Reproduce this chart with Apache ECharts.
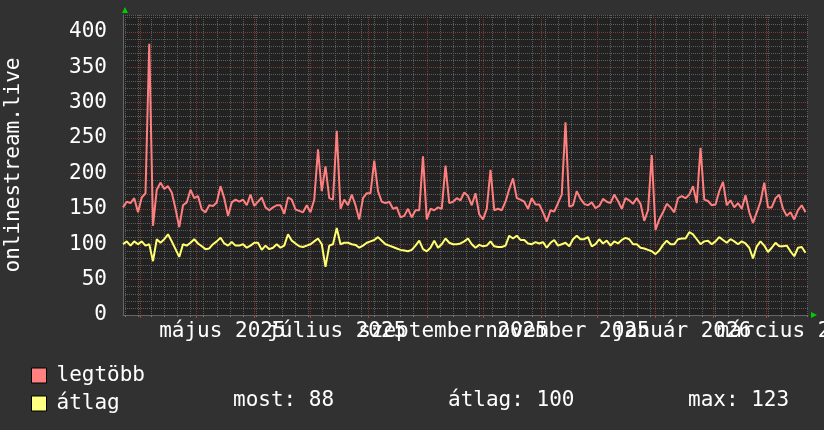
<!DOCTYPE html>
<html><head><meta charset="utf-8">
<script src="https://cdn.jsdelivr.net/npm/echarts@6/dist/echarts.min.js"></script>
<style>html,body{margin:0;padding:0;background:#313131}#c{width:824px;height:430px}</style>
</head><body><div id="c"></div><script>
// time frame
const startDate = '2025-03-23';
const spanDays = 365.33;
const stepDays = 2;
// series values (one sample every 2 days)
const legtobb = [152,160,158,165,145,166,172,383,126,177,187,178,182,173,150,124,155,159,177,165,168,149,145,155,154,159,182,165,140,159,163,160,163,155,170,154,160,166,152,148,152,155,155,143,166,163,149,147,
145,155,145,163,234,175,210,165,163,260,150,163,155,170,155,135,165,172,172,218,175,160,158,160,150,152,138,140,150,138,148,148,224,135,150,148,152,150,211,158,160,165,162,173,168,
155,172,142,135,150,205,148,150,148,160,178,193,165,163,160,150,165,156,156,145,132,148,146,158,170,272,153,155,175,164,157,155,159,151,154,164,160,158,170,161,150,165,162,157,
165,157,133,148,226,120,135,145,157,152,145,165,168,165,170,182,158,236,163,161,155,156,175,188,155,162,152,158,150,169,145,130,145,160,187,152,152,165,170,150,140,145,135,148,155,145];
const atlag = [100,104,98,104,100,104,98,100,76,107,102,107,114,104,93,82,100,98,102,107,101,97,93,94,100,104,109,101,98,103,98,98,100,95,98,102,102,92,98,93,95,100,95,98,114,105,101,97,
96,98,100,104,108,100,68,98,100,123,100,102,102,100,99,95,98,102,104,106,110,105,100,98,96,94,92,91,90,92,98,105,93,90,95,105,95,100,108,102,100,100,101,104,108,
100,95,99,97,98,104,97,96,96,98,112,108,112,106,106,101,100,103,101,103,95,102,106,98,100,102,97,107,112,107,107,110,97,100,107,101,105,98,104,101,106,109,107,100,
100,95,94,92,90,86,91,99,105,100,100,107,108,108,117,114,107,100,104,105,100,104,110,106,102,107,104,100,104,101,95,80,97,104,98,89,95,102,97,97,98,90,83,95,96,88];
// axis marks
const firstMonday = '2025-03-24';
const monthStarts = ['2025-04-01','2025-05-01','2025-06-01','2025-07-01','2025-08-01','2025-09-01','2025-10-01','2025-11-01','2025-12-01','2026-01-01','2026-02-01','2026-03-01'];
const labelDates = ['2025-05-15','2025-07-15','2025-09-15','2025-11-15','2026-01-15','2026-03-15'];
const labelTexts = ['május 2025','július 2025','szeptember 2025','november 2025','január 2026','március 2026'];
const yMax = 423.7;
const seriesNames = ['legtöbb','átlag'];
const statTexts = ['most: 88','átlag: 100','max: 123'];
const yTitle = 'onlinestream.live';

const DAY = 86400000;
const dayOf = s => (Date.parse(s) - Date.parse(startDate)) / DAY;
const weekDays = [];
for (let d = dayOf(firstMonday); d <= spanDays; d += 7) weekDays.push(d);
const monthDays = monthStarts.map(dayOf);
const labelDays = labelDates.map(dayOf);
const labelMap = {};
labelDays.forEach((d, i) => labelMap[d] = labelTexts[i]);
const labelsA = labelDays.filter((d, i) => i % 2 === 0);
const labelsB = labelDays.filter((d, i) => i % 2 === 1);
const toPts = arr => arr.map((v, i) => [i * stepDays, v]);

const FONT = 'DejaVu Sans Mono';
const GREY = '#5c5c5c', RED = '#7e3a3a';
const labelStyle = {formatter: v => labelMap[v] || '', color: '#ffffff', fontFamily: FONT, fontSize: 21, margin: 6,
  showMinLabel: true, showMaxLabel: true, hideOverlap: false};
const chart = echarts.init(document.getElementById('c'));
chart.setOption({
  backgroundColor: '#313131',
  animation: false,
  textStyle: {fontFamily: FONT},
  grid: {left: 123, top: 15, width: 685, height: 300, backgroundColor: '#222222', show: true, borderWidth: 0, outerBoundsMode: 'none', containLabel: false},
  xAxis: [{
    type: 'value', min: 0, max: spanDays,
    axisLine: {show: true, lineStyle: {color: '#666'}},
    axisTick: {show: true, customValues: weekDays, length: 2, inside: false, lineStyle: {color: '#777'}},
    splitLine: {show: true, lineStyle: {color: GREY, type: [1, 1], width: 1}},
    axisLabel: Object.assign({customValues: labelsA}, labelStyle)
  }, {
    type: 'value', min: 0, max: spanDays, position: 'bottom',
    axisLine: {show: false},
    axisTick: {show: true, customValues: monthDays, length: 3, lineStyle: {color: '#b04040'}},
    splitLine: {show: true, lineStyle: {color: RED, type: [1, 1], width: 1}},
    axisLabel: Object.assign({customValues: labelsB}, labelStyle)
  }],
  yAxis: {
    type: 'value', min: 0, max: yMax, interval: 10,
    name: yTitle, nameLocation: 'middle', nameGap: 99, nameRotate: 90,
    nameTextStyle: {color: '#ffffff', fontFamily: FONT, fontSize: 21},
    axisLine: {show: true, lineStyle: {color: '#666'}},
    axisTick: {show: false},
    splitLine: {show: true, lineStyle: {color: [RED, GREY, GREY, GREY, GREY], type: [1, 1], width: 1}},
    axisLabel: {formatter: v => (v % 50 === 0 ? String(v) : ''), color: '#ffffff', fontFamily: FONT, fontSize: 21, margin: 16}
  },
  legend: [{
    data: [seriesNames[0]], left: 31, top: 365, padding: 0, orient: 'vertical',
    icon: 'rect', itemWidth: 15, itemHeight: 15,
    itemStyle: {borderColor: '#000', borderWidth: 1},
    textStyle: {color: '#ffffff', fontFamily: FONT, fontSize: 21, padding: [0, 0, 0, 5]},
    selectedMode: false
  }, {
    data: [seriesNames[1]], left: 31, top: 393, padding: 0, orient: 'vertical',
    icon: 'rect', itemWidth: 15, itemHeight: 15,
    itemStyle: {borderColor: '#000', borderWidth: 1},
    textStyle: {color: '#ffffff', fontFamily: FONT, fontSize: 21, padding: [0, 0, 0, 5]},
    selectedMode: false
  }],
  graphic: [
    {type: 'text', left: 233, top: 390, style: {text: statTexts[0], fill: '#fff', font: '21px "DejaVu Sans Mono"'}},
    {type: 'text', left: 448, top: 390, style: {text: statTexts[1], fill: '#fff', font: '21px "DejaVu Sans Mono"'}},
    {type: 'text', left: 688, top: 390, style: {text: statTexts[2], fill: '#fff', font: '21px "DejaVu Sans Mono"'}},
    {type: 'polygon', shape: {points: [[122, 13], [128, 13], [125, 7]]}, style: {fill: '#00cc00'}},
    {type: 'polygon', shape: {points: [[811, 312], [811, 318], [817, 315]]}, style: {fill: '#00cc00'}}
  ],
  series: [{
    name: seriesNames[0], type: 'line', data: toPts(legtobb), showSymbol: false, symbol: 'none',
    lineStyle: {color: '#ff7f7f', width: 2}, itemStyle: {color: '#ff8080'}, z: 3
  }, {
    name: seriesNames[1], type: 'line', data: toPts(atlag), showSymbol: false, symbol: 'none',
    lineStyle: {color: '#ffff70', width: 2}, itemStyle: {color: '#ffff80'}, z: 3
  }]
});
</script></body></html>
